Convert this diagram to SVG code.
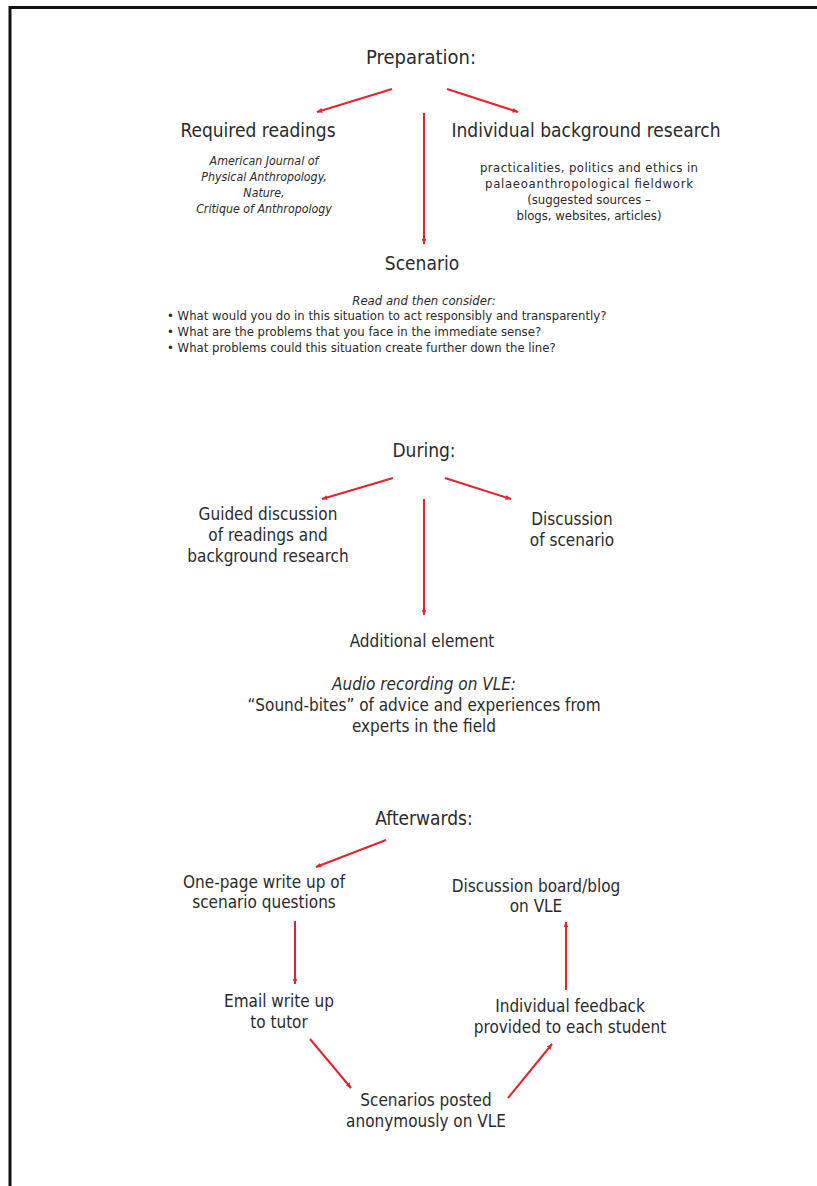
<svg xmlns="http://www.w3.org/2000/svg" width="817" height="1186" viewBox="0 0 817 1186">
<defs>
<style>
text{font-family:"DejaVu Sans Condensed","DejaVu Sans","Liberation Sans",sans-serif;fill:#2b2b2b;text-anchor:middle}
.h{font-size:19px}
.t{font-size:20px}
.n{font-size:17px}
.s{font-size:13px}
.i{font-style:italic}
.si{font-size:12.3px;font-style:italic}
.c line{stroke:#e2242e;stroke-width:2;marker-end:url(#ah)}
</style>
<marker id="ah" viewBox="0 0 10 10" refX="9" refY="5" markerWidth="3" markerHeight="3" orient="auto" markerUnits="strokeWidth">
<path d="M0,1 L10,5 L0,9 z" fill="#e2242e"/>
</marker>
</defs>
<rect width="817" height="1186" fill="#fff"/>
<path d="M10,1186 V7.5 H817" fill="none" stroke="#111" stroke-width="3"/>

<g class="c" id="connectors">
<line x1="392" y1="89" x2="317" y2="112"/>
<line x1="447" y1="89" x2="518" y2="112"/>
<line x1="424" y1="113" x2="424" y2="244"/>
<line x1="393" y1="478" x2="322" y2="499"/>
<line x1="445" y1="478" x2="511" y2="499"/>
<line x1="424" y1="499" x2="424" y2="615"/>
<line x1="386" y1="840" x2="316" y2="867"/>
<line x1="295" y1="921" x2="295" y2="984"/>
<line x1="566" y1="990" x2="566" y2="922"/>
<line x1="310" y1="1039" x2="351" y2="1088"/>
<line x1="508" y1="1098" x2="552" y2="1044"/>
</g>

<g id="preparation"><text class="t" x="421" y="64">Preparation:</text></g>
<g id="required-readings">
<text class="h" x="258" y="137">Required readings</text>
<text class="si" x="264" y="165">American Journal of</text>
<text class="si" x="264" y="181">Physical Anthropology,</text>
<text class="si" x="264" y="197">Nature,</text>
<text class="si" x="264" y="213">Critique of Anthropology</text>
</g>
<g id="background-research">
<text class="s" x="589" y="172" textLength="218" lengthAdjust="spacing">practicalities, politics and ethics in</text>
<text class="h" x="586" y="137">Individual background research</text>
<text class="s" x="589" y="188" textLength="208" lengthAdjust="spacing">palaeoanthropological fieldwork</text>
<text class="s" x="589" y="204">(suggested sources –</text>
<text class="s" x="589" y="220">blogs, websites, articles)</text>
</g>
<g id="scenario">
<text class="h" x="422" y="270">Scenario</text>
<text class="s i" x="424" y="305">Read and then consider:</text>
<text class="s" x="167" y="320" style="text-anchor:start">• What would you do in this situation to act responsibly and transparently?</text>
<text class="s" x="167" y="336" style="text-anchor:start">• What are the problems that you face in the immediate sense?</text>
<text class="s" x="167" y="352" style="text-anchor:start">• What problems could this situation create further down the line?</text>
</g>
<g id="during"><text class="h" x="424" y="457">During:</text></g>
<g id="guided-discussion">
<text class="n" x="268" y="520">Guided discussion</text>
<text class="n" x="268" y="541">of readings and</text>
<text class="n" x="268" y="562">background research</text>
</g>
<g id="discussion-scenario">
<text class="n" x="572" y="525">Discussion</text>
<text class="n" x="572" y="546">of scenario</text>
</g>
<g id="additional-element">
<text class="n" x="422" y="647">Additional element</text>
<text class="n i" x="424" y="690">Audio recording on VLE:</text>
<text class="n" x="424" y="711">“Sound-bites” of advice and experiences from</text>
<text class="n" x="424" y="732">experts in the field</text>
</g>
<g id="afterwards"><text class="h" x="424" y="825">Afterwards:</text></g>
<g id="write-up">
<text class="n" x="264" y="888">One-page write up of</text>
<text class="n" x="264" y="908">scenario questions</text>
</g>
<g id="discussion-board">
<text class="n" x="536" y="892">Discussion board/blog</text>
<text class="n" x="536" y="912">on VLE</text>
</g>
<g id="email">
<text class="n" x="279" y="1007">Email write up</text>
<text class="n" x="279" y="1028">to tutor</text>
</g>
<g id="feedback">
<text class="n" x="570" y="1012">Individual feedback</text>
<text class="n" x="570" y="1033">provided to each student</text>
</g>
<g id="scenarios-posted">
<text class="n" x="426" y="1106">Scenarios posted</text>
<text class="n" x="426" y="1127">anonymously on VLE</text>
</g>
</svg>
